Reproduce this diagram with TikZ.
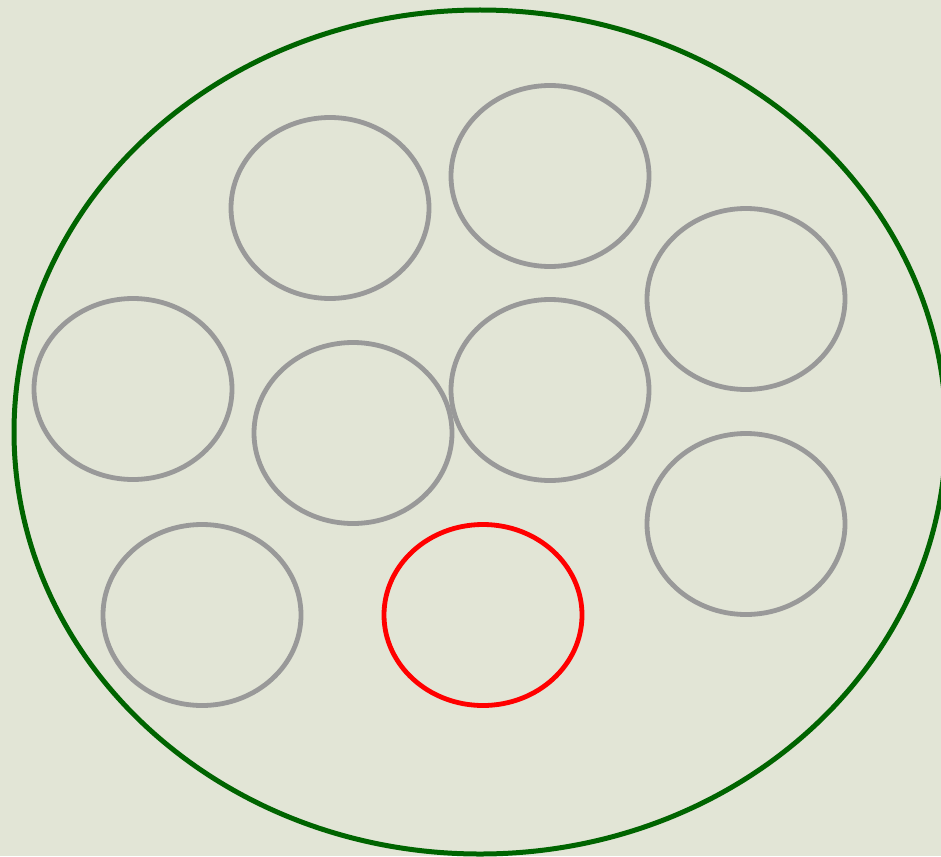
\documentclass[tikz,border=0pt]{standalone}
\usepackage{xcolor}
\usetikzlibrary{shapes.geometric}
\definecolor{cBg}{HTML}{E2E5D6}
\definecolor{cOut}{HTML}{006400}
\definecolor{cCell}{HTML}{999999}
\definecolor{cHit}{HTML}{FF0000}
\begin{document}
\begin{tikzpicture}[x=1pt,y=-1pt,
  cell/.style={ellipse,draw=cCell,line width=4.8pt,minimum width=198pt,minimum height=181pt,inner sep=0pt},
  hit/.style={cell,draw=cHit},
  outer/.style={ellipse,draw=cOut,line width=5pt,minimum width=932pt,minimum height=844pt,inner sep=0pt}]
  % background and frame
  \fill[cBg] (0,0) rectangle (941,856);
  \useasboundingbox (0,0) rectangle (941,856);
  \node[outer] (set) at (480,432) {};
  % gray members
  \foreach \n/\cx/\cy in {a/330/208, b/550/176, c/746/299, d/133/389, e/353/433,
                          f/550/390, g/746/524, h/202/615}
    \node[cell] (\n) at (\cx,\cy) {};
  % highlighted member
  \node[hit] (sel) at (483,615) {};
\end{tikzpicture}
\end{document}
